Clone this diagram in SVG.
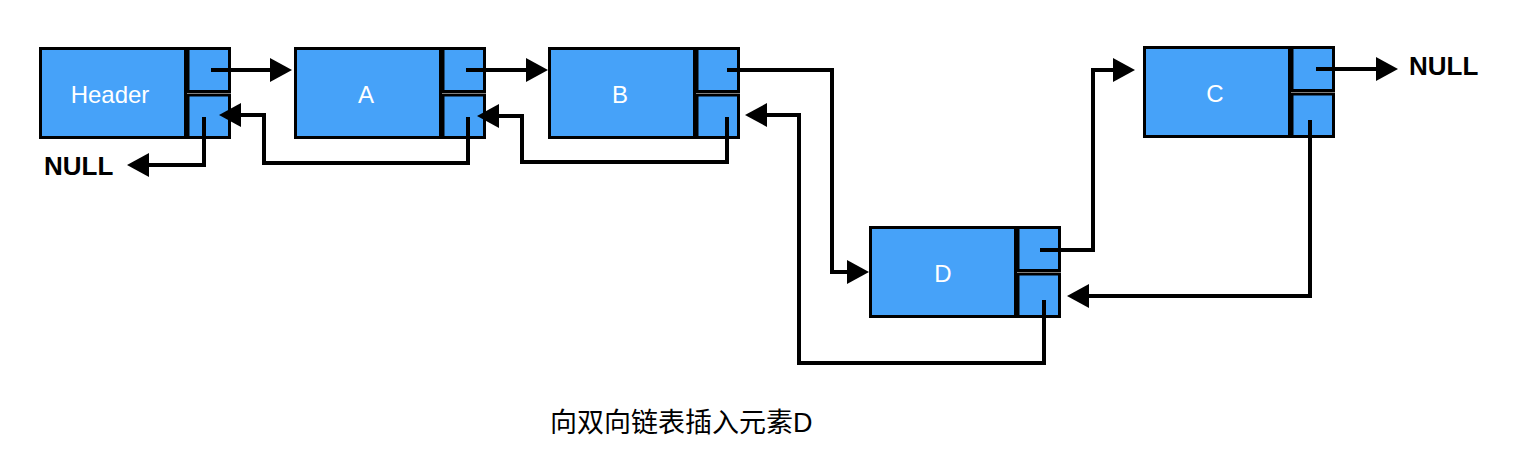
<svg xmlns="http://www.w3.org/2000/svg" width="1526" height="474" viewBox="0 0 1526 474">
<style>
.box{fill:#46A2F9;stroke:#000;stroke-width:3}
.lbl{font-family:"Liberation Sans",Arial,sans-serif;font-size:24px;fill:#fff;text-anchor:middle}
.null{font-family:"Liberation Sans",Arial,sans-serif;font-size:26px;font-weight:bold;fill:#000}
.cap{font-family:"Liberation Sans","Noto Sans CJK SC",sans-serif;font-size:27px;fill:#000}
.con{fill:none;stroke:#000;stroke-width:4;marker-end:url(#ah)}
</style>
<defs>
<marker id="ah" markerUnits="userSpaceOnUse" markerWidth="22" markerHeight="24" refX="2" refY="12" orient="auto" viewBox="0 0 22 24">
<path d="M0,0 L22,12 L0,24 z" fill="#000"/>
</marker>
</defs>
<g id="node-header">
<rect class="box" x="40.5" y="48.5" width="145" height="89"/>
<rect class="box" x="188" y="48.5" width="41.5" height="43"/>
<rect class="box" x="188" y="95" width="41.5" height="42.5"/>
<text class="lbl" x="110" y="103">Header</text>
</g>
<g id="node-a">
<rect class="box" x="295.5" y="48.5" width="145" height="89"/>
<rect class="box" x="443" y="48.5" width="41.5" height="43"/>
<rect class="box" x="443" y="95" width="41.5" height="42.5"/>
<text class="lbl" x="366" y="103">A</text>
</g>
<g id="node-b">
<rect class="box" x="549.5" y="48.5" width="145" height="89"/>
<rect class="box" x="697" y="48.5" width="41.5" height="43"/>
<rect class="box" x="697" y="95" width="41.5" height="42.5"/>
<text class="lbl" x="620" y="103">B</text>
</g>
<g id="node-c">
<rect class="box" x="1144.5" y="47.5" width="145" height="89"/>
<rect class="box" x="1292" y="47.5" width="41.5" height="43"/>
<rect class="box" x="1292" y="94" width="41.5" height="42.5"/>
<text class="lbl" x="1215" y="102">C</text>
</g>
<g id="node-d">
<rect class="box" x="870.5" y="227.5" width="145" height="89"/>
<rect class="box" x="1018" y="227.5" width="41.5" height="43"/>
<rect class="box" x="1018" y="274" width="41.5" height="42.5"/>
<text class="lbl" x="943" y="282">D</text>
</g>
<g id="connectors">
<path class="con" d="M211,70 H272"/>
<path class="con" d="M466,70 H528"/>
<path class="con" d="M727,70 H832 V272 H849"/>
<path class="con" d="M1040,250 H1093 V70 H1115"/>
<path class="con" d="M1316,69 H1378"/>
<path class="con" d="M1310,120 V296 H1087"/>
<path class="con" d="M1044,300 V363 H799 V115 H765"/>
<path class="con" d="M727,117 V162 H522 V116 H497"/>
<path class="con" d="M468,117 V163 H264 V115 H239"/>
<path class="con" d="M204,117 V165 H147"/>
</g>
<text class="null" x="44" y="175">NULL</text>
<text class="null" x="1409" y="75">NULL</text>
<text class="cap" x="550" y="432">向双向链表插入元素D</text>
</svg>
